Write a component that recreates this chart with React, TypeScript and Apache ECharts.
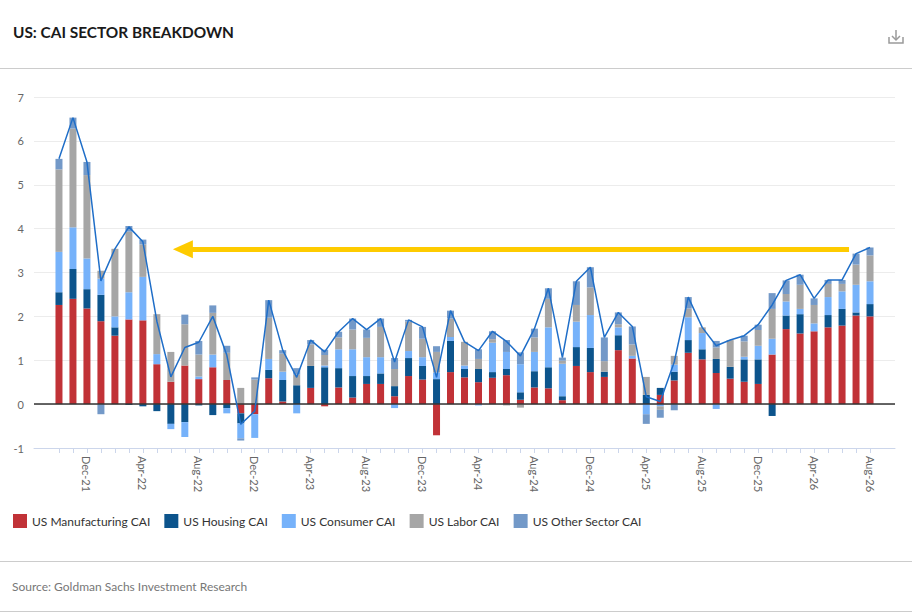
import React, { useEffect, useRef } from "react";
import * as echarts from "echarts";

const months = [
  "Oct-21", "Nov-21", "Dec-21",
  "Jan-22", "Feb-22", "Mar-22", "Apr-22", "May-22", "Jun-22", "Jul-22", "Aug-22", "Sep-22", "Oct-22", "Nov-22", "Dec-22",
  "Jan-23", "Feb-23", "Mar-23", "Apr-23", "May-23", "Jun-23", "Jul-23", "Aug-23", "Sep-23", "Oct-23", "Nov-23", "Dec-23",
  "Jan-24", "Feb-24", "Mar-24", "Apr-24", "May-24", "Jun-24", "Jul-24", "Aug-24", "Sep-24", "Oct-24", "Nov-24", "Dec-24",
  "Jan-25", "Feb-25", "Mar-25", "Apr-25", "May-25", "Jun-25", "Jul-25", "Aug-25", "Sep-25", "Oct-25", "Nov-25", "Dec-25",
  "Jan-26", "Feb-26", "Mar-26", "Apr-26", "May-26", "Jun-26", "Jul-26", "Aug-26",
];

const manufacturing = [
  2.26, 2.4, 2.18, 1.89, 1.56, 1.93, 1.91, 0.91, 0.51, 0.88,
  0.57, 0.84, 0.55, -0.21, -0.23, 0.59, 0.06, 0.0, 0.37, -0.05,
  0.38, 0.15, 0.46, 0.46, 0.18, 0.64, 0.56, -0.71, 0.73, 0.61,
  0.5, 0.6, 0.66, 0.1, 0.38, 0.36, 0.09, 0.87, 0.73, 0.62,
  1.23, 1.04, 0.0, 0.21, 0.54, 1.17, 1.02, 0.71, 0.58, 0.51,
  0.46, 1.13, 1.71, 1.61, 1.66, 1.75, 1.79, 2.02, 2.0,
];
const housing = [
  0.29, 0.68, 0.44, 0.6, 0.19, -0.02, -0.05, -0.16, -0.45, -0.41,
  -0.03, -0.25, -0.09, -0.23, 0.0, 0.19, 0.49, 0.43, 0.5, 0.84,
  0.44, 0.49, 0.18, 0.24, 0.23, 0.41, 0.31, 0.57, 0.71, 0.19,
  0.3, 0.13, 0.14, 0.17, 0.37, 0.48, 0.09, 0.43, 0.55, 0.12,
  0.34, 0.0, 0.21, 0.16, 0.2, 0.29, 0.23, 0.32, 0.27, 0.51,
  0.56, -0.27, 0.31, 0.44, 0.0, 0.28, 0.38, 0.07, 0.28,
];
const consumer = [
  0.92, 0.95, 0.7, 0.37, 0.25, 0.62, 0.99, 0.23, -0.12, -0.34,
  0.06, 0.29, -0.12, -0.34, -0.54, 0.25, 0.19, -0.21, 0.0, 0.04,
  0.43, 0.61, 0.43, 0.37, -0.09, 0.16, 0.2, 0.15, 0.09, 0.08,
  -0.03, 0.67, 0.39, 0.64, 0.44, 0.91, 0.74, 0.58, 0.75, 0.0,
  0.18, 0.06, -0.23, -0.05, 0.16, 0.52, 0.37, -0.11, 0.0, 0.06,
  0.31, 0.36, 0.32, 0.12, 0.18, 0.41, 0.4, 0.63, 0.52,
];
const labor = [
  1.88, 2.25, 1.9, 0.18, 1.54, 1.38, 0.74, 0.91, 0.68, 0.94,
  0.5, 0.95, 0.62, 0.37, 0.56, 0.94, 0.41, 0.24, 0.49, 0.24,
  0.27, 0.45, 0.44, 0.69, 0.39, 0.67, 0.42, 0.47, 0.42, 0.54,
  0.23, 0.08, -0.03, -0.08, 0.33, 0.65, 0.07, 0.38, 0.63, 0.24,
  0.07, 0.26, 0.41, -0.08, 0.2, 0.2, 0.13, 0.26, 0.61, 0.35,
  0.36, 0.68, 0.17, 0.55, 0.42, 0.3, 0.17, 0.46, 0.59,
];
const otherSector = [
  0.24, 0.25, 0.3, -0.23, 0.0, 0.13, 0.11, 0.0, 0.0, 0.22,
  0.31, 0.17, 0.16, -0.05, 0.05, 0.4, 0.08, 0.15, 0.1, 0.12,
  0.13, 0.25, 0.19, 0.19, 0.25, 0.04, 0.27, 0.13, 0.18, 0.0,
  0.22, 0.18, 0.27, 0.27, 0.2, 0.24, 0.07, 0.54, 0.46, 0.54,
  0.27, 0.41, -0.22, -0.18, -0.14, 0.26, 0.0, 0.15, 0.0, 0.13,
  0.12, 0.36, 0.31, 0.23, 0.15, 0.09, 0.09, 0.25, 0.18,
];
const totalCai = [
  5.59, 6.53, 5.52, 2.81, 3.54, 4.04, 3.7, 1.89, 0.62, 1.29,
  1.41, 2.0, 1.12, -0.46, -0.16, 2.37, 1.23, 0.61, 1.46, 1.19,
  1.65, 1.95, 1.7, 1.95, 0.96, 1.92, 1.76, 0.61, 2.13, 1.42,
  1.22, 1.66, 1.43, 1.1, 1.72, 2.64, 1.06, 2.8, 3.12, 1.52,
  2.09, 1.77, 0.17, 0.06, 0.96, 2.44, 1.75, 1.33, 1.46, 1.56,
  1.81, 2.26, 2.82, 2.95, 2.41, 2.83, 2.83, 3.43, 3.57,
];

const seriesNames = [
  "US Manufacturing CAI",
  "US Housing CAI",
  "US Consumer CAI",
  "US Labor CAI",
  "US Other Sector CAI",
];
const seriesColors = ["#c13237", "#0c548c", "#76b2fa", "#a6a6a6", "#7399c8"];
const seriesValues = [manufacturing, housing, consumer, labor, otherSector];

const tickIdx = months.map((_, i) => i);
const labelIdx = months.map((_, i) => i).filter((i) => (i - 2) % 4 === 0);

// arrow annotation (level and span in axis units)
const arrowLevel = 3.53;
const arrowStart = 56.5;
const arrowEnd = 8.86;

export default function App() {
  const ref = useRef<HTMLDivElement>(null);
  useEffect(() => {
    document.body.style.margin = "0";
    const chart = echarts.init(ref.current!, null, { renderer: "svg" });
    // value first, month index second: the value column is the stacked one
    const bars = seriesValues.map((vals, s) => ({
      name: seriesNames[s],
      type: "bar",
      stack: "cai",
      barWidth: 7,
      data: vals.map((v, i) => [v, i]),
      encode: { x: 1, y: 0 },
      itemStyle: { color: seriesColors[s] },
      z: 2,
    }));
    const option: any = {
      animation: false,
      textStyle: { fontFamily: "Lato" },
      title: {
        text: "US: CAI SECTOR BREAKDOWN",
        left: 8,
        top: 19,
        textStyle: { fontFamily: "Lato", fontWeight: "bold", fontSize: 15.4, color: "#1a1a1a" },
      },
      legend: {
        data: seriesNames,
        left: 8,
        top: 509,
        icon: "rect",
        itemWidth: 14,
        itemHeight: 14,
        itemGap: 14,
        textStyle: { fontFamily: "Lato", fontSize: 12, color: "#333" },
      },
      grid: { left: 34, right: 17, top: 97, bottom: 165 },
      xAxis: {
        type: "value",
        min: -1.786,
        max: 59.786,
        axisLine: { show: true, onZero: false, lineStyle: { color: "#ccd6eb" } },
        axisTick: { show: true, customValues: tickIdx, length: 5, lineStyle: { color: "#ccd6eb" } },
        axisLabel: {
          customValues: labelIdx,
          formatter: (v: number) => months[Math.round(v)] ?? "",
          rotate: -90,
          color: "#666",
          fontSize: 11,
          margin: 8,
        },
        splitLine: { show: false },
      },
      yAxis: {
        type: "value",
        min: -1,
        max: 7,
        interval: 1,
        axisLine: { show: false },
        axisTick: { show: false },
        axisLabel: { color: "#666", fontSize: 11, margin: 10 },
        splitLine: { lineStyle: { color: "#ececec" } },
      },
      series: [
        ...bars,
        {
          name: "US CAI",
          type: "line",
          data: totalCai.map((v, i) => [i, v]),
          symbol: "none",
          lineStyle: { color: "#1f6ec8", width: 1.5 },
          itemStyle: { color: "#1f6ec8" },
          z: 5,
          markLine: {
            silent: true,
            animation: false,
            symbol: ["none", "none"],
            label: { show: false },
            emphasis: { disabled: true },
            data: [
              { yAxis: 0, lineStyle: { color: "#333", width: 1.5, type: "solid" } },
              [
                {
                  coord: [arrowStart, arrowLevel],
                  symbol: "none",
                  lineStyle: { color: "#fecb00", width: 5, type: "solid" },
                },
                {
                  coord: [arrowEnd, arrowLevel],
                  symbol: "triangle",
                  symbolSize: [18, 20],
                  lineStyle: { color: "#fecb00", width: 5, type: "solid" },
                },
              ],
            ],
          },
        },
      ],
      graphic: [
        { type: "line", shape: { x1: 0, y1: 68.5, x2: 912, y2: 68.5 }, style: { stroke: "#cccccc", lineWidth: 1 } },
        { type: "line", shape: { x1: 0, y1: 561.5, x2: 912, y2: 561.5 }, style: { stroke: "#cccccc", lineWidth: 1 } },
        { type: "line", shape: { x1: 0, y1: 611.5, x2: 912, y2: 611.5 }, style: { stroke: "#cccccc", lineWidth: 1 } },
        {
          type: "text",
          left: 12,
          top: 580,
          style: { text: "Source: Goldman Sachs Investment Research", fill: "#777", font: "12px Lato" },
        },
        {
          type: "group",
          children: [
            { type: "line", shape: { x1: 896, y1: 30, x2: 896, y2: 40 }, style: { stroke: "#9a9a9a", lineWidth: 1.5 } },
            { type: "polyline", shape: { points: [[892, 36], [896, 40], [900, 36]] }, style: { stroke: "#9a9a9a", lineWidth: 1.5, fill: "none" } },
            { type: "polyline", shape: { points: [[889, 37], [889, 43], [903, 43], [903, 37]] }, style: { stroke: "#9a9a9a", lineWidth: 1.5, fill: "none" } },
          ],
        },
      ],
    };
    chart.setOption(option);
    return () => chart.dispose();
  }, []);
  return <div ref={ref} style={{ width: 912, height: 613 }} />;
}
